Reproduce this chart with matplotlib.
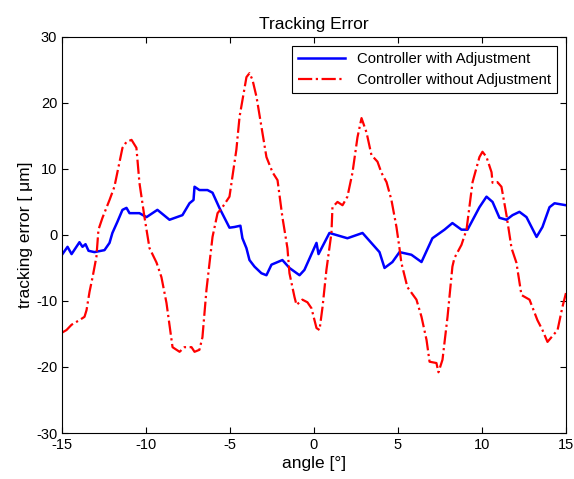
import matplotlib
matplotlib.use("Agg")
import matplotlib.pyplot as plt

plt.rcParams["font.family"] = ["Liberation Sans", "DejaVu Sans"]
plt.rcParams["axes.unicode_minus"] = False

# tracking error, controller with adjustment (blue)
angle_with = [-15, -14.67, -14.43, -13.96, -13.78, -13.6, -13.42, -13.07, -12.47, -12.17,
              -12.0, -11.7, -11.4, -11.16, -10.98, -10.39, -9.97, -9.32, -8.6, -7.83,
              -7.41, -7.17, -7.11, -6.82, -6.34, -6.04, -5.63, -5.03, -4.74, -4.38,
              -4.26, -4.02, -3.84, -3.54, -3.13, -2.83, -2.53, -1.88, -1.46, -0.86,
              -0.57, 0.15, 0.27, 0.92, 1.99, 2.89, 3.9, 4.2, 4.67, 5.09,
              5.8, 6.4, 7.05, 7.77, 8.24, 8.78, 9.14, 9.85, 10.27, 10.63,
              11.04, 11.46, 11.82, 12.23, 12.65, 13.25, 13.6, 14.02, 14.32, 15.0]
error_with = [-3.0, -1.8, -2.9, -1.1, -1.8, -1.4, -2.4, -2.6, -2.3, -1.2,
              0.3, 2.0, 3.8, 4.1, 3.3, 3.3, 2.7, 3.8, 2.3, 3.0,
              4.8, 5.3, 7.3, 6.8, 6.8, 6.4, 4.1, 1.1, 1.2, 1.4,
              -0.5, -2.0, -3.8, -4.8, -5.8, -6.1, -4.5, -3.8, -5.0, -6.1,
              -5.3, -1.2, -2.9, 0.3, -0.5, 0.3, -2.6, -5.0, -4.1, -2.6,
              -3.0, -4.1, -0.5, 0.8, 1.8, 0.8, 0.8, 4.2, 5.8, 5.0,
              2.6, 2.3, 3.0, 3.5, 2.7, -0.3, 1.2, 4.2, 4.8, 4.5]

# tracking error, controller without adjustment (red)
angle_without = [-15, -14.73, -14.43, -13.96, -13.66, -13.54, -13.36, -13.18, -12.95, -12.83,
                 -12.59, -12.17, -11.88, -11.4, -11.16, -10.86, -10.57, -10.39, -10.09, -9.79,
                 -9.37, -9.08, -8.78, -8.42, -8.0, -7.71, -7.29, -7.11, -6.82, -6.64,
                 -6.4, -6.04, -5.74, -5.45, -5.03, -4.62, -4.43, -4.02, -3.84, -3.66,
                 -3.42, -3.07, -2.83, -2.47, -2.17, -1.88, -1.58, -1.46, -1.16, -1.04,
                 -0.69, -0.39, -0.15, 0.15, 0.33, 0.51, 0.74, 1.04, 1.1, 1.4,
                 1.7, 1.99, 2.29, 2.59, 2.83, 3.13, 3.42, 3.78, 4.02, 4.32,
                 4.61, 4.91, 5.09, 5.2, 5.56, 6.1, 6.4, 6.7, 6.88, 7.29,
                 7.41, 7.65, 7.95, 8.24, 8.36, 8.78, 9.08, 9.44, 9.85, 10.03,
                 10.27, 10.57, 10.63, 10.92, 11.16, 11.46, 11.76, 12.05, 12.35, 12.83,
                 13.3, 13.6, 13.9, 14.5, 14.79, 15.0]
error_without = [-14.8, -14.4, -13.6, -12.9, -12.4, -11.4, -8.6, -6.4, -3.3, 0.8,
                 2.6, 5.3, 7.3, 13.2, 14.1, 14.4, 13.2, 7.9, 2.7, -2.0,
                 -4.2, -6.4, -10.3, -17.0, -17.7, -17.0, -17.0, -17.7, -17.4, -15.5,
                 -8.3, -0.3, 3.3, 4.2, 5.8, 12.9, 17.9, 23.9, 24.5, 23.5,
                 20.9, 15.5, 11.8, 9.5, 8.3, 2.7, -2.0, -5.8, -9.4, -10.6,
                 -9.8, -10.2, -11.1, -14.1, -14.4, -10.9, -5.3, 0.3, 4.2, 5.0,
                 4.5, 5.8, 9.4, 14.8, 17.7, 15.5, 12.1, 11.1, 9.4, 8.0,
                 5.3, 1.2, -2.0, -4.2, -7.9, -9.8, -12.4, -15.9, -19.2, -19.4,
                 -20.8, -18.9, -12.4, -4.8, -3.5, -1.5, 0.8, 8.0, 11.8, 12.6,
                 11.8, 9.5, 7.9, 8.0, 7.3, 3.0, -2.0, -4.2, -9.1, -9.8,
                 -12.9, -14.4, -16.2, -14.4, -10.9, -8.8]

x_ticks = [-15, -10, -5, 0, 5, 10, 15]
y_ticks = [-30, -20, -10, 0, 10, 20, 30]

fig = plt.figure(figsize=(5.74, 4.79), dpi=100)
ax = fig.add_axes([0.108, 0.096, 0.878, 0.827])

ax.plot(angle_with, error_with, color="blue", lw=1.8, label="Controller with Adjustment")
ax.plot(angle_without, error_without, color="red", lw=1.6, linestyle="-.",
        label="Controller without Adjustment")

ax.set_xlim(-15, 15)
ax.set_ylim(-30, 30)
ax.set_xticks(x_ticks)
ax.set_yticks(y_ticks)
ax.tick_params(direction="in", top=True, right=True, labelsize=10.5, length=4)

ax.set_title("Tracking Error", fontsize=12.5)
ax.set_xlabel("angle [°]", fontsize=12.5, labelpad=3)
ax.set_ylabel("tracking error [ μm]", fontsize=12.5, labelpad=2)

leg = ax.legend(loc="upper right", fontsize=10.7, fancybox=False, framealpha=1,
                edgecolor="black", borderaxespad=0.6, handlelength=3.2)
leg.get_frame().set_linewidth(0.8)

fig.savefig("out.png", dpi=100)
